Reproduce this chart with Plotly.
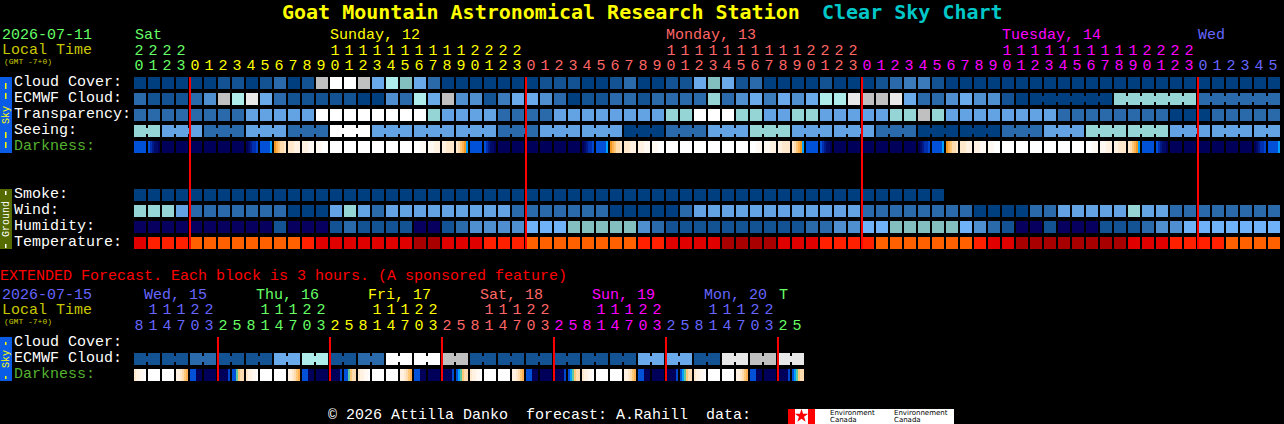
import plotly.graph_objects as go

# ---------- data ----------
CLOUD = ("000000" "1101201" "acca5975" "2" "0000000" "111" "00" "12" "00" "11" "575" "12" "0000" "1" "000" "1233" "1"
         "000000000000000000000000")
ECMWF = ("2" "111" "2" "4" "a" "9" "b" "5" "2" "11111" "00" "4" "2" "9" "5" "a" "44" "1" "3" "55" "4" "2" "0" "11" "22"
         "1" "2222" "8" "2" "4" "5" "3" "5" "4" "5" "99" "b" "aa" "b" "5" "22" "4" "5" "44" "1" "0"
         "000000" "888888" "222222")
TRANSPARENCY = ("22222222" "66666" "cccccccc" "8" "6666" "2222" "66666666" "88" "ccc" "88" "66" "88" "66666" "88" "a" "8"
                "66666666" "22222222" "000" "22222")
SEEING = ("88" "666" "222" "666" "222" "ccc" "666" "666" "666" "222" "666" "666" "000" "222" "666" "888" "666" "666"
          "222" "000" "000" "222" "666" "888" "888" "666" "666" "66")
SMOKE = "0000000000000000000000000000000000000000000000000000000000"
WIND = ("888" "6" "2222222" "000" "6" "8" "6" "2" "666666666" "2222222" "00000" "2" "666666666666" "22222222" "0000"
        "22" "66666" "8" "66" "22222222")
HUMIDITY = ("nnnnnnnnnn" "1" "nnn" "1" "2" "1111" "nn" "1" "2" "4444" "ddd" "77777" "4" "2" "1111111111" "22" "44" "dd"
            "77777" "d" "4" "2" "1" "nn" "1" "nnn" "111" "2" "44" "ddddddd")
TEMPERATURE = ("R" "FFF" "OOOOOOOO" "F" "RRRRRRR" "DD" "RRR" "FFF" "OOOOOOOO" "FF" "RRRR" "DDDD" "RRR" "FFFF" "OOOOOOO"
               "F" "RR" "DDDDDDDD" "RRR" "FFFF" "OOOO")
DARKNESS = ["rrrrrr", "rpommn", "nnnnnn", "nnnnnn", "nnnnnn", "nnnnnn", "nnnnnn", "nnnnnn", "nmoppq", "rrrrrs",
            "tuvwwx", "xxxyyy", "yyyzzz", "zzzWWW", "WWWWWW", "WWWWWW", "WWWWWW", "WWWWWW", "WWWWWW", "WWWWWW",
            "WWWzzz", "zzzyyy", "yyxxxx", "xwvuts", "rrrrrr", "rpommn", "nnnnnn", "nnnnnn", "nnnnnn", "nnnnnn",
            "nnnnnn", "nnnnnn", "nmoppq", "rrrrrs", "tuvwwx", "xxxyyy", "yyyzzz", "zzzWWW", "WWWWWW", "WWWWWW",
            "WWWWWW", "WWWWWW", "WWWWWW", "WWWWWW", "WWWzzz", "zzzyyy", "yyxxxx", "xwvuts", "rrrrrr", "rpommn",
            "nnnnnn", "nnnnnn", "nnnnnn", "nnnnnn", "nnnnnn", "nnnnnn", "nmoppq", "rrrrrs", "tuvwwx", "xxxyyy",
            "yyyzzz", "zzzWWW", "WWWWWW", "WWWWWW", "WWWWWW", "WWWWWW", "WWWWWW", "WWWWWW", "WWWzzz", "zzzyyy",
            "yyxxxx", "xwvuts", "rrrrrr", "rpommn", "nnnnnn", "nnnnnn", "nnnnnn", "nnnnnn", "nnnnnn", "nnnnnn",
            "nmoppq", "rrrrrs"]
EXT_ECMWF = ("11" "11" "22" "11" "11" "55" "99" "11" "22" "cc" "cc" "aa" "11" "11" "11" "11" "11" "11" "55" "55" "11"
             "bb" "aa" "bb")
EXT_DARKNESS = ["xyyzzW", "WWWWWW", "WWWWWW", "yyxwvu", "rrrnnn", "nnnnnn", "nnnnnq", "rrgvww",
                "xyyzzW", "WWWWWW", "WWWWWW", "yyxwvu", "rrrnnn", "nnnnnn", "nnnnnq", "rrgvww",
                "xyyzzW", "WWWWWW", "WWWWWW", "yyxwvu", "rrrnnn", "nnnnnn", "nnnnnq", "rsgvww",
                "xyyzzW", "WWWWWW", "WWWWWW", "yyxwvu", "rrrnnn", "nnnnnn", "nnnnnq", "rsgvww",
                "xyyzzW", "WWWWWW", "WWWWWW", "yyxwvu", "rrrnnn", "nnnnnn", "nnnnnq", "rsgvww",
                "xyyzzW", "WWWWWW", "WWWWWW", "yyxwvu", "rrrnnn", "nnnnnn", "nnnnnq", "rsgvww"]

HOURS = [20, 21, 22, 23] + list(range(24)) + list(range(24)) + list(range(24)) + [0, 1, 2, 3, 4, 5]
EXT_HOURS = [8, 11, 14, 17, 20, 23] + [2, 5, 8, 11, 14, 17, 20, 23] * 5 + [2, 5]
MIDNIGHTS = [4, 28, 52, 76]
EXT_MIDNIGHTS = [6, 14, 22, 30, 38, 46]

SKY_LABELS = ["Cloud Cover:", "ECMWF Cloud:", "Transparency:", "Seeing:", "Darkness:"]
GROUND_LABELS = ["Smoke:", "Wind:", "Humidity:", "Temperature:"]
DAY_LABELS = [("Sat", 135, "green"), ("Sunday, 12", 330, "yellow"), ("Monday, 13", 666, "salmon"),
              ("Tuesday, 14", 1002, "magenta"), ("Wed", 1198, "blue")]
EXT_DAY_LABELS = [("Wed, 15", 144, "blue"), ("Thu, 16", 256, "green"), ("Fri, 17", 368, "yellow"),
                  ("Sat, 18", 480, "salmon"), ("Sun, 19", 592, "magenta"), ("Mon, 20", 704, "blue"),
                  ("T", 779, "green")]

# ---------- styles ----------
DAY = {"green": "#66ff66", "yellow": "#ffff00", "salmon": "#ff6666", "magenta": "#ff00ff", "blue": "#6666ff"}
PAL = {"0": "#003f7f", "1": "#135393", "2": "#2a6aaa", "3": "#3b7bbb", "4": "#4f8fcf", "5": "#6aa9ea", "6": "#63a3e3",
       "d": "#70b2f8", "7": "#83bfbf", "8": "#95d5d5", "9": "#aeecec", "a": "#c0c0c0", "b": "#e8e8e8", "c": "#ffffff",
       "n": "#08005f", "D": "#a80000", "R": "#e00000", "F": "#ff2000", "O": "#ff6000"}
DARKPAL = {"n": "#00005a", "m": "#000a68", "o": "#001a88", "p": "#0030b0", "q": "#0048d0", "r": "#0050d8",
           "s": "#00a0ff", "g": "#60c8a0", "t": "#f09820", "u": "#ffb050", "v": "#ffc878", "w": "#ffdcb0",
           "x": "#ffe8cc", "y": "#fff2e2", "z": "#fff9f3", "W": "#ffffff"}
MONO = "Liberation Mono"
GREEN_LABEL = "#55b030"
DIM = "#c8c800"


def px(x):
    return (x - 140) / 14


def py(y):
    return (y - 83) / 16


def scale(pal):
    n = len(pal)
    out = []
    for i, c in enumerate(pal.values()):
        out += [[i / n, c], [(i + 1) / n, c]]
    return out


KEYS = list(PAL)
DKEYS = list(DARKPAL)
fig = go.Figure()


def row(text, y):
    fig.add_trace(go.Heatmap(z=[[KEYS.index(ch) for ch in text]], x0=0, dx=1, y0=y, dy=1, xgap=2, ygap=4,
                             zmin=-0.5, zmax=len(KEYS) - 0.5, colorscale=scale(PAL), showscale=False,
                             hoverinfo="skip"))


def dark_row(cells, y):
    z = []
    for cell in cells:
        z += [DKEYS.index(ch) for ch in cell] + [None]
    fig.add_trace(go.Heatmap(z=[z], x0=-2.5 / 7, dx=1 / 7, y0=y, dy=1, ygap=4, zmin=-0.5, zmax=len(DKEYS) - 0.5,
                             colorscale=scale(DARKPAL), showscale=False, hoverinfo="skip"))


def joins(text, y, groups):
    for a, b in groups:
        fig.add_trace(go.Scatter(x=[a, b], y=[y, y], mode="lines", hoverinfo="skip",
                                 line=dict(color=PAL[text[a]], width=6)))


def redlines(cols, y0, y1):
    for c in cols:
        fig.add_trace(go.Scatter(x=[c - 3 / 7, c - 3 / 7], y=[y0, y1], mode="lines", hoverinfo="skip",
                                 line=dict(color="#ff0000", width=2)))


def digits(hours, spans, y_tens, y_units):
    for a, b, name in spans:
        cols = list(range(a, b))
        fig.add_trace(go.Scatter(x=[c - 1 / 14 for c in cols], y=[y_units] * len(cols), mode="text", hoverinfo="skip",
                                 text=[str(hours[c] % 10) for c in cols],
                                 textfont=dict(family=MONO, size=15, color=DAY[name])))
        tens = [c for c in cols if hours[c] >= 10]
        fig.add_trace(go.Scatter(x=[c - 1 / 14 for c in tens], y=[y_tens] * len(tens), mode="text", hoverinfo="skip",
                                 text=[str(hours[c] // 10) for c in tens],
                                 textfont=dict(family=MONO, size=15, color=DAY[name])))


row(CLOUD, 0)
row(ECMWF, 1)
row(TRANSPARENCY, 2)
row(SEEING, 3)
dark_row(DARKNESS, 4)
row(SMOKE, 7)
row(WIND, 8)
row(HUMIDITY, 9)
row(TEMPERATURE, 10)
joins(ECMWF, 1, [(64, 69), (70, 75), (76, 81)])
joins(SEEING, 3, [(0, 1)] + [(i, i + 2) for i in range(2, 80, 3)] + [(80, 81)])
redlines(MIDNIGHTS, py(77), py(249))

EXT_Y = py(359)
row(EXT_ECMWF, EXT_Y)
dark_row(EXT_DARKNESS, EXT_Y + 1)
joins(EXT_ECMWF, EXT_Y, [(i, i + 1) for i in range(0, 48, 2)])
redlines(EXT_MIDNIGHTS, py(337), py(381))

digits(HOURS, [(0, 4, "green"), (4, 28, "yellow"), (28, 52, "salmon"), (52, 76, "magenta"), (76, 82, "blue")],
       py(51), py(66))
digits(EXT_HOURS, [(0, 6, "blue"), (6, 14, "green"), (14, 22, "yellow"), (22, 30, "salmon"), (30, 38, "magenta"),
                   (38, 46, "blue"), (46, 48, "green")], py(310.5), py(326))

ann = []


def label(text, x, y, color, size=15, bold=False, family=MONO, angle=0, anchor="left", shift=0):
    ann.append(dict(x=px(x), y=py(y), xref="x", yref="y", text=f"<b>{text}</b>" if bold else text, showarrow=False,
                    xanchor=anchor, yanchor="middle", borderpad=0, textangle=angle, xshift=shift,
                    font=dict(family=family, size=size, color=color)))


label("Goat Mountain Astronomical Research Station", 281, 12, "#ffff00", 20, True, "DejaVu Sans Mono")
label("Clear Sky Chart", 821, 12, "#00c8c8", 20, True, "DejaVu Sans Mono")
label("2026-07-11", 1, 35.5, DAY["green"])
label("Local Time", 1, 50.5, DIM)
label("(GMT -7+0)", 3, 61, DIM, 8)
for text, x, name in DAY_LABELS:
    label(text, x - 1, 35.5, DAY[name])
for i, text in enumerate(SKY_LABELS):
    label(text, 13, 82 + 16 * i, GREEN_LABEL if text.startswith("Dark") else "#ffffff")
for i, text in enumerate(GROUND_LABELS):
    label(text, 13, 194 + 16 * i, "#ffffff")
label("EXTENDED Forecast. Each block is 3 hours. (A sponsored feature)", 0, 276, "#ff0000", shift=-1)
label("2026-07-15", 1, 295.5, DAY["blue"])
label("Local Time", 1, 310.5, DIM)
label("(GMT -7+0)", 3, 321, DIM, 8)
for text, x, name in EXT_DAY_LABELS:
    label(text, x - 1, 295.5, DAY[name])
label("Cloud Cover:", 13, 342, "#ffffff")
label("ECMWF Cloud:", 13, 358, "#ffffff")
label("Darkness:", 13, 374, GREEN_LABEL)
label("© 2026 Attilla Danko  forecast: A.Rahill  data:", 327, 415, "#ffffff")

# side badges and the sponsor logo
label("Sky", 6, 115, "#ffff00", 10, angle=-90, anchor="center")
label("Ground", 6, 219, "#ffffff", 10, angle=-90, anchor="center")
label("Sky", 6, 359, "#ffff00", 10, angle=-90, anchor="center")
label("Environment", 829, 412.5, "#000000", 7, family="DejaVu Sans")
label("Canada", 829, 420, "#000000", 7, family="DejaVu Sans")
label("Environnement", 893, 412.5, "#000000", 7, family="DejaVu Sans")
label("Canada", 893, 420, "#000000", 7, family="DejaVu Sans")


def box(x0, y0, x1, y1, color, layer="below"):
    return dict(type="rect", xref="x", yref="y", x0=px(x0), x1=px(x1), y0=py(y0), y1=py(y1),
                fillcolor=color, line=dict(width=0), layer=layer)


shapes = [box(0, 77, 12, 153, "#0a5ce6"), box(0, 189, 12, 249, "#556b00"), box(0, 337, 12, 381, "#0a5ce6"),
          box(788, 409, 954, 424, "#ffffff"), box(788, 409, 795, 424, "#ff0000"), box(808, 409, 815, 424, "#ff0000")]
for y0, y1 in [(83, 89), (93, 99), (132, 138), (142, 148), (342, 345), (376, 379)]:
    shapes.append(box(5, y0, 6.5, y1, "#ffff00", "above"))
for y0, y1 in [(191, 195), (244, 248)]:
    shapes.append(box(5, y0, 6.5, y1, "#ffffff", "above"))
fig.add_trace(go.Scatter(x=[px(801.5)], y=[py(416)], mode="markers", hoverinfo="skip",
                         marker=dict(symbol="star", size=10, color="#ff0000")))

fig.update_layout(width=1284, height=424, margin=dict(l=0, r=0, t=0, b=0), paper_bgcolor="#000000",
                  plot_bgcolor="#000000", showlegend=False, hovermode=False, annotations=ann, shapes=shapes,
                  xaxis=dict(range=[px(0), px(1284)], visible=False, fixedrange=True),
                  yaxis=dict(range=[py(424), py(0)], visible=False, fixedrange=True))
fig.write_html("out.html", config=dict(displayModeBar=False),
               post_script="document.body.style.margin='0';document.body.style.background='#000';"
                           "document.body.style.overflow='hidden';")
